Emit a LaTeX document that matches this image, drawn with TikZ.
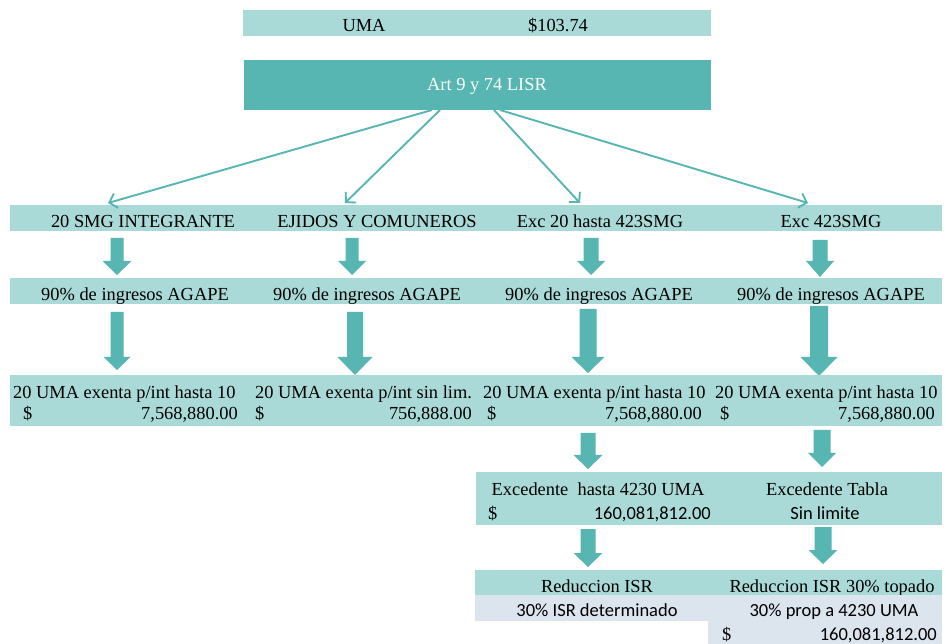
\documentclass[tikz,border=0pt]{standalone}
\usepackage{fontspec}
\setmainfont{Liberation Serif}
\newfontfamily\calib{Carlito}
\usetikzlibrary{arrows.meta}
\definecolor{lt}{HTML}{A9DAD7}
\definecolor{dk}{HTML}{57B6B2}
\definecolor{bgb}{HTML}{DCE4EE}
% block arrow: cx, top, headstart, tip, shaft half width, head half width
\newcommand{\blockarr}[6]{%
  \fill[dk] (#1-#5,#2) -- (#1+#5,#2) -- (#1+#5,#3) -- (#1+#6,#3) -- (#1,#4) -- (#1-#6,#3) -- (#1-#5,#3) -- cycle;}
\begin{document}
\begin{tikzpicture}[x=1pt,y=-1pt,
  bar/.style={fill=lt, draw=none, inner sep=0pt, outer sep=0pt, anchor=north west},
  darkbar/.style={bar, fill=dk},
  bluebar/.style={bar, fill=bgb},
  txt/.style={anchor=base, inner sep=0pt, font=\fontsize{18.4}{20}\selectfont},
  txtw/.style={txt, anchor=base west},
  txte/.style={txt, anchor=base east},
  stxt/.style={anchor=base, inner sep=0pt, font=\calib\fontsize{18.5}{20}\selectfont},
  stxte/.style={stxt, anchor=base east},
  conn/.style={draw=dk, line width=1.9pt, -{Straight Barb[length=7pt,width=15pt]}}]
\useasboundingbox (0,0) rectangle (946,644);
\fill[white] (0,0) rectangle (946,644);

% top bars
\node[bar, minimum width=468pt, minimum height=26pt] (umabar) at (243,10) {};
\node[txt] (tuma) at (364,32) {UMA};
\node[txt] (tumav) at (558,32) {\$103.74};
\node[darkbar, minimum width=467pt, minimum height=50pt] (art) at (244,60) {};
\node[txt, text=white] (tart) at (487,91) {Art 9 y 74 LISR};

% row 1
\node[bar, minimum width=932pt, minimum height=26pt] (r1) at (10,205) {};
\node[txt] (c1a) at (143,228) {20 SMG INTEGRANTE};
\node[txt] (c1b) at (377,228) {EJIDOS Y COMUNEROS};
\node[txt] (c1c) at (600,228) {Exc 20 hasta 423SMG};
\node[txt] (c1d) at (831,228) {Exc 423SMG};

% thin connectors
\coordinate (s1) at (432,110);
\coordinate (s2) at (440,110);
\coordinate (s3) at (494,110);
\coordinate (s4) at (500,110);
\coordinate (e1) at (108,203);
\coordinate (e2) at (345,203);
\coordinate (e3) at (580,203);
\coordinate (e4) at (808,203);
\draw[conn] (s1) -- (e1);
\draw[conn] (s2) -- (e2);
\draw[conn] (s3) -- (e3);
\draw[conn] (s4) -- (e4);

% row 2
\node[bar, minimum width=932pt, minimum height=26pt] (r2) at (10,278) {};
\node[txt] (c2a) at (135,301) {90\% de ingresos AGAPE};
\node[txt] (c2b) at (367,301) {90\% de ingresos AGAPE};
\node[txt] (c2c) at (599,301) {90\% de ingresos AGAPE};
\node[txt] (c2d) at (831,301) {90\% de ingresos AGAPE};

% block arrows row1 -> row2
\blockarr{117}{238}{261}{275}{6.5}{14.5}
\blockarr{352}{238}{261}{275}{6.5}{14}
\blockarr{591}{238}{261}{275}{7.5}{14}
\blockarr{820}{240}{261}{277}{7.5}{14}

% block arrows row2 -> row3
\blockarr{117}{312}{357}{370}{6.5}{13.5}
\blockarr{355}{312}{357}{375}{8}{17.5}
\blockarr{588}{309}{357}{373}{8.5}{16.5}
\blockarr{819}{306}{357}{376}{9}{18.5}

% row 3
\node[bar, minimum width=932pt, minimum height=51pt] (r3) at (10,375) {};
\node[txtw] (c3a) at (13,399) {20 UMA exenta p/int hasta 10};
\node[txtw] (c3b) at (255,399) {20 UMA exenta p/int sin lim.};
\node[txtw] (c3c) at (483,399) {20 UMA exenta p/int hasta 10};
\node[txtw] (c3d) at (715,399) {20 UMA exenta p/int hasta 10};
\node[txtw] (d3a) at (23,420) {\$};
\node[txte] (v3a) at (238,420) {7,568,880.00};
\node[txtw] (d3b) at (255,420) {\$};
\node[txte] (v3b) at (472,420) {756,888.00};
\node[txtw] (d3c) at (487,420) {\$};
\node[txte] (v3c) at (702,420) {7,568,880.00};
\node[txtw] (d3d) at (720,420) {\$};
\node[txte] (v3d) at (935,420) {7,568,880.00};

% block arrows row3 -> row4
\blockarr{588}{433}{455}{469}{7.5}{14.5}
\blockarr{822}{430}{453}{467}{8.5}{14}

% row 4
\node[bar, minimum width=466pt, minimum height=53pt] (r4) at (476,472) {};
\node[txt] (c4a) at (598,496) {Excedente\ \ hasta 4230 UMA};
\node[txt] (c4b) at (827,496) {Excedente Tabla};
\node[txtw] (d4a) at (488,519) {\$};
\node[stxte] (v4a) at (711,519) {160,081,812.00};
\node[stxt] (v4b) at (825,519) {Sin limite};

% block arrows row4 -> row5
\blockarr{588}{529}{553}{567}{7.5}{14.5}
\blockarr{823}{527}{550}{564}{8.5}{14.5}

% rows 5-7
\node[bar, minimum width=467pt, minimum height=25pt] (r5) at (475,570) {};
\node[txt] (c5a) at (597,592) {Reduccion ISR};
\node[txt] (c5b) at (832,592) {Reduccion ISR 30\% topado};
\node[bluebar, minimum width=467pt, minimum height=25.5pt] (r6) at (475,595) {};
\node[stxt] (c6a) at (597,616) {30\% ISR determinado};
\node[stxt] (c6b) at (834,616) {30\% prop a 4230 UMA};
\node[bluebar, minimum width=234pt, minimum height=24pt] (r7) at (708,620) {};
\node[txtw] (d7) at (722,640) {\$};
\node[stxte] (v7) at (937,640) {160,081,812.00};
\end{tikzpicture}
\end{document}
